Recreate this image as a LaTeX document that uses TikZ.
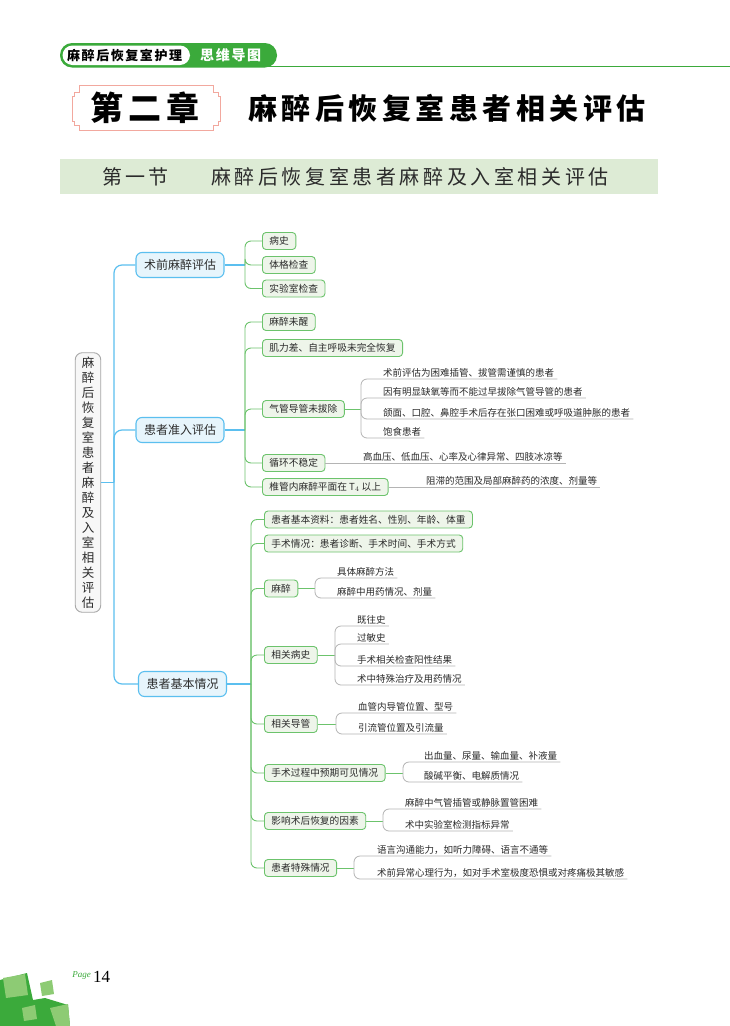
\documentclass[tikz,border=0pt]{standalone}
\usepackage{fontspec}
\setmainfont{Noto Sans CJK SC}
\newfontfamily\serifnum{Liberation Serif}
\usetikzlibrary{calc}
\definecolor{mgreen}{HTML}{3BAA3B}
\definecolor{lgreen}{HTML}{6CC36C}
\definecolor{boxfill}{HTML}{EEF5EA}
\definecolor{bblue}{HTML}{5BBFEF}
\definecolor{bfill}{HTML}{E7F5FC}
\definecolor{gline}{HTML}{B4B4B4}
\definecolor{banner}{HTML}{DDEBD5}
\definecolor{framec}{HTML}{F2A89E}
\definecolor{txt}{HTML}{2B2B2B}
\definecolor{lsq}{HTML}{8DCB74}
\newcommand\leaf[6]{%
  \node[subtext] (#1) at (#4,#5-3) {#6};
  \draw[gry] (#2,#3) |- ($(#1.base east)+(3,3)$);}
\begin{document}
\begin{tikzpicture}[x=1pt,y=-1pt,
  lvone/.style={draw=bblue, fill=bfill, line width=1.1pt, rounded corners=6pt, inner xsep=8pt, inner ysep=0pt, minimum height=25pt, font=\fontsize{12}{14}\selectfont, text=txt},
  lvtwo/.style={draw=lgreen, fill=boxfill, line width=0.9pt, rounded corners=3.5pt, inner xsep=7pt, inner ysep=0pt, minimum height=17pt, font=\fontsize{9.7}{11}\selectfont, text=txt, anchor=west},
  subtext/.style={inner sep=0pt, font=\fontsize{9.5}{11}\selectfont, text=txt, anchor=base west},
  bline/.style={draw=bblue, line width=1.2pt, rounded corners=8pt},
  gln/.style={draw=lgreen, line width=0.9pt, rounded corners=6pt},
  gry/.style={draw=gline, line width=0.8pt, rounded corners=6pt},
  plain/.style={inner sep=0pt},
]
\fill[white] (0,0) rectangle (730,1026);
\useasboundingbox (0,0) rectangle (730,1026);

% header pill
\path[fill=mgreen, rounded corners=12pt] (60,43) rectangle (277,67.5);
\path[fill=white, rounded corners=10pt] (62.5,45.5) rectangle (190,65);
\draw[mgreen, line width=1.2pt] (265,66.3) -- (730,66.3);
\node[plain, font=\bfseries\fontsize{13}{15}\selectfont, text=black, anchor=west] (h1) at (67,55) {\addfontfeatures{LetterSpace=12}麻醉后恢复室护理};
\node[plain, font=\bfseries\fontsize{14}{15}\selectfont, text=white, anchor=west] (h2) at (200,55) {\addfontfeatures{LetterSpace=12}思维导图};

% chapter frame
\draw[framec, line width=1pt] (79,85) -- (213,85) -- (213,92) -- (218,92) -- (218,96) -- (220,96) -- (220,121) -- (218,121) -- (218,125) -- (213,125) -- (213,130) -- (79,130) -- (79,125) -- (74,125) -- (74,121) -- (72,121) -- (72,96) -- (74,96) -- (74,92) -- (79,92) -- cycle;
\node[plain, font=\bfseries\fontsize{33}{36}\selectfont, anchor=west] (ch) at (90,108) {\addfontfeatures{LetterSpace=16}第二章};
\node[plain, font=\bfseries\fontsize{29}{32}\selectfont, anchor=west] (tt) at (248,108) {\addfontfeatures{LetterSpace=15.5}麻醉后恢复室患者相关评估};

% section banner
\fill[banner] (60,159) rectangle (658,194);
\node[plain, anchor=west, font=\fontsize{20}{22}\selectfont, text=txt] (s1) at (102,176.5) {\addfontfeatures{LetterSpace=17}第一节};
\node[plain, anchor=west, font=\fontsize{20}{22}\selectfont, text=txt] (s2) at (211,176.5) {\addfontfeatures{LetterSpace=18}麻醉后恢复室患者麻醉及入室相关评估};

% root
\node[draw=gray!70, fill=gray!6, rounded corners=7pt, line width=0.9pt, inner xsep=6.5pt, inner ysep=4pt, align=center, font=\fontsize{12.5}{15}\selectfont, text=txt] (root) at (88,482.5) {麻\\醉\\后\\恢\\复\\室\\患\\者\\麻\\醉\\及\\入\\室\\相\\关\\评\\估};

% level one
\node[lvone] (a) at (180,265) {术前麻醉评估};
\node[lvone] (b) at (180,430) {患者准入评估};
\node[lvone] (c) at (182.5,684) {患者基本情况};
\draw[bline] (root.east) -- (114,482.5);
\foreach \n in {a,b,c} \draw[bline] (114,482.5) |- (\n.west);

% group a
\node[lvtwo] (a1) at (262,241) {病史};
\node[lvtwo] (a2) at (262,265) {体格检查};
\node[lvtwo] (a3) at (262,288.5) {实验室检查};
\draw[bline] (a.east) -- (245,265);
\foreach \n in {a1,a2,a3} \draw[gln] (245,265) |- (\n.west);

% group b
\node[lvtwo] (b1) at (262,322) {麻醉未醒};
\node[lvtwo] (b2) at (262,348) {肌力差、自主呼吸未完全恢复};
\node[lvtwo] (b3) at (262,409) {气管导管未拔除};
\node[lvtwo] (b4) at (262,463) {循环不稳定};
\node[lvtwo] (b5) at (262,487) {椎管内麻醉平面在 T$_4$ 以上};
\draw[bline] (b.east) -- (245,430);
\foreach \n in {b1,b2,b3,b4,b5} \draw[gln] (245,430) |- (\n.west);

\draw[gln] (b3.east) -- (361,409);
\leaf{b31}{361}{409}{383}{379}{术前评估为困难插管、拔管需谨慎的患者}
\leaf{b32}{361}{409}{383}{398}{因有明显缺氧等而不能过早拔除气管导管的患者}
\leaf{b33}{361}{409}{383}{419}{颌面、口腔、鼻腔手术后存在张口困难或呼吸道肿胀的患者}
\leaf{b34}{361}{409}{383}{438}{饱食患者}

\node[subtext] (b41) at (363,460) {高血压、低血压、心率及心律异常、四肢冰凉等};
\draw[gry] (b4.east) -- ($(b41.base east)+(3,3)$);
\node[subtext] (b51) at (426,484) {阻滞的范围及局部麻醉药的浓度、剂量等};
\draw[gry] (b5.east) -- ($(b51.base east)+(3,3)$);

% group c
\node[lvtwo] (c1) at (264,519.5) {患者基本资料：患者姓名、性别、年龄、体重};
\node[lvtwo] (c2) at (264,543.5) {手术情况：患者诊断、手术时间、手术方式};
\node[lvtwo] (c3) at (264,588.5) {麻醉};
\node[lvtwo] (c4) at (264,655) {相关病史};
\node[lvtwo] (c5) at (264,724) {相关导管};
\node[lvtwo] (c6) at (264,773) {手术过程中预期可见情况};
\node[lvtwo] (c7) at (264,821) {影响术后恢复的因素};
\node[lvtwo] (c8) at (264,868) {患者特殊情况};
\draw[bline] (c.east) -- (251,684);
\foreach \n in {c1,c2,c3,c4,c5,c6,c7,c8} \draw[gln] (251,684) |- (\n.west);

\draw[gln] (c3.east) -- (315,588.5);
\leaf{c31}{315}{588.5}{337}{578}{具体麻醉方法}
\leaf{c32}{315}{588.5}{337}{598}{麻醉中用药情况、剂量}

\draw[gln] (c4.east) -- (335,655);
\leaf{c41}{335}{655}{357}{626}{既往史}
\leaf{c42}{335}{655}{357}{644}{过敏史}
\leaf{c43}{335}{655}{357}{666}{手术相关检查阳性结果}
\leaf{c44}{335}{655}{357}{685}{术中特殊治疗及用药情况}

\draw[gln] (c5.east) -- (336,724);
\leaf{c51}{336}{724}{358}{713}{血管内导管位置、型号}
\leaf{c52}{336}{724}{358}{734}{引流管位置及引流量}

\draw[gln] (c6.east) -- (403,773);
\leaf{c61}{403}{773}{424}{762}{出血量、尿量、输血量、补液量}
\leaf{c62}{403}{773}{424}{782}{酸碱平衡、电解质情况}

\draw[gln] (c7.east) -- (383,821);
\leaf{c71}{383}{821}{405}{809}{麻醉中气管插管或静脉置管困难}
\leaf{c72}{383}{821}{405}{831}{术中实验室检测指标异常}

\draw[gln] (c8.east) -- (354,868);
\leaf{c81}{354}{868}{377}{856}{语言沟通能力，如听力障碍、语言不通等}
\leaf{c82}{354}{868}{377}{879}{术前异常心理行为，如对手术室极度恐惧或对疼痛极其敏感}

% footer decoration
\fill[mgreen] (0,980) -- (27,973) -- (33,1000) -- (45,998) -- (68,1005) -- (70,1026) -- (0,1026) -- cycle;
\fill[lsq] (3,978) -- (25,974) -- (28,995) -- (6,998) -- cycle;
\fill[lsq] (40,983) -- (52,980) -- (54,994) -- (42,996) -- cycle;
\fill[lsq] (22,1008) -- (35,1005) -- (37,1019) -- (24,1021) -- cycle;
\fill[lsq] (50,1008) -- (68,1004) -- (70,1026) -- (56,1026) -- cycle;
\node[plain, anchor=west, font=\serifnum\fontsize{17}{18}\selectfont] (pg) at (93,977) {14};
\node[plain, anchor=east, font=\serifnum\itshape\fontsize{9}{10}\selectfont, text=mgreen] (pl) at (91,975) {Page};
\end{tikzpicture}
\end{document}
